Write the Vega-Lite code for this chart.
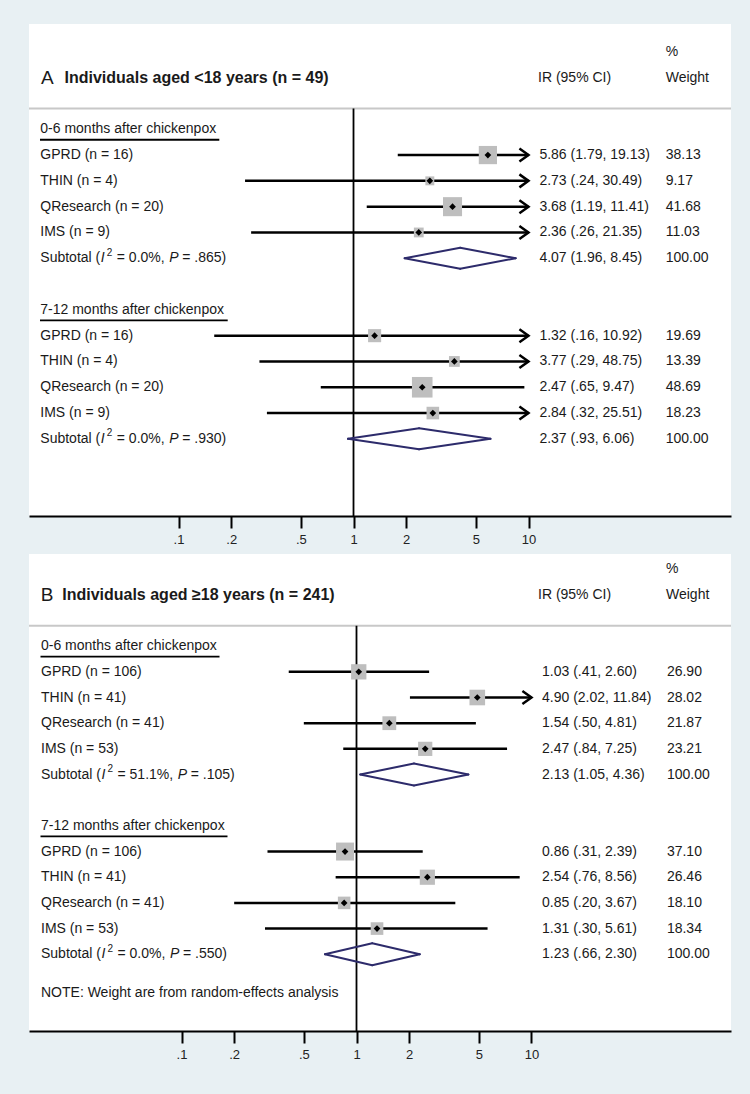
{
  "$schema": "https://vega.github.io/schema/vega-lite/v6.json",
  "background": "#e8f0f3",
  "padding": {"left": 28, "top": 24, "right": 20, "bottom": 33},
  "bounds": "flush",
  "spacing": 38,
  "datasets": {
    "a": [
      {"kind": "wthead", "label": "%", "row": 1},
      {"kind": "letter", "label": "A", "row": 2},
      {"kind": "title", "label": "Individuals aged <18 years (n = 49)", "row": 2},
      {"kind": "irhead", "label": "IR (95% CI)", "row": 2},
      {"kind": "wthead", "label": "Weight", "row": 2},
      {"kind": "header", "label": "0-6 months after chickenpox", "row": 4},
      {"kind": "study", "label": "GPRD (n = 16)", "row": 5, "est": 5.86, "lo": 1.79, "hi": 19.13, "w": 38.13, "ci": "5.86 (1.79, 19.13)"},
      {"kind": "study", "label": "THIN (n = 4)", "row": 6, "est": 2.73, "lo": 0.24, "hi": 30.49, "w": 9.17, "ci": "2.73 (.24, 30.49)"},
      {"kind": "study", "label": "QResearch (n = 20)", "row": 7, "est": 3.68, "lo": 1.19, "hi": 11.41, "w": 41.68, "ci": "3.68 (1.19, 11.41)"},
      {"kind": "study", "label": "IMS (n = 9)", "row": 8, "est": 2.36, "lo": 0.26, "hi": 21.35, "w": 11.03, "ci": "2.36 (.26, 21.35)"},
      {"kind": "subtotal", "label": "Subtotal (", "row": 9, "est": 4.07, "lo": 1.96, "hi": 8.45, "w": 100.0, "ci": "4.07 (1.96, 8.45)", "eqI": "= 0.0%,", "eqP": "= .865)"},
      {"kind": "header", "label": "7-12 months after chickenpox", "row": 11},
      {"kind": "study", "label": "GPRD (n = 16)", "row": 12, "est": 1.32, "lo": 0.16, "hi": 10.92, "w": 19.69, "ci": "1.32 (.16, 10.92)"},
      {"kind": "study", "label": "THIN (n = 4)", "row": 13, "est": 3.77, "lo": 0.29, "hi": 48.75, "w": 13.39, "ci": "3.77 (.29, 48.75)"},
      {"kind": "study", "label": "QResearch (n = 20)", "row": 14, "est": 2.47, "lo": 0.65, "hi": 9.47, "w": 48.69, "ci": "2.47 (.65, 9.47)"},
      {"kind": "study", "label": "IMS (n = 9)", "row": 15, "est": 2.84, "lo": 0.32, "hi": 25.51, "w": 18.23, "ci": "2.84 (.32, 25.51)"},
      {"kind": "subtotal", "label": "Subtotal (", "row": 16, "est": 2.37, "lo": 0.93, "hi": 6.06, "w": 100.0, "ci": "2.37 (.93, 6.06)", "eqI": "= 0.0%,", "eqP": "= .930)"}
    ],
    "b": [
      {"kind": "wthead", "label": "%", "row": 1},
      {"kind": "letter", "label": "B", "row": 2},
      {"kind": "title", "label": "Individuals aged ≥18 years (n = 241)", "row": 2},
      {"kind": "irhead", "label": "IR (95% CI)", "row": 2},
      {"kind": "wthead", "label": "Weight", "row": 2},
      {"kind": "header", "label": "0-6 months after chickenpox", "row": 4},
      {"kind": "study", "label": "GPRD (n = 106)", "row": 5, "est": 1.03, "lo": 0.41, "hi": 2.60, "w": 26.90, "ci": "1.03 (.41, 2.60)"},
      {"kind": "study", "label": "THIN (n = 41)", "row": 6, "est": 4.90, "lo": 2.02, "hi": 11.84, "w": 28.02, "ci": "4.90 (2.02, 11.84)"},
      {"kind": "study", "label": "QResearch (n = 41)", "row": 7, "est": 1.54, "lo": 0.50, "hi": 4.81, "w": 21.87, "ci": "1.54 (.50, 4.81)"},
      {"kind": "study", "label": "IMS (n = 53)", "row": 8, "est": 2.47, "lo": 0.84, "hi": 7.25, "w": 23.21, "ci": "2.47 (.84, 7.25)"},
      {"kind": "subtotal", "label": "Subtotal (", "row": 9, "est": 2.13, "lo": 1.05, "hi": 4.36, "w": 100.0, "ci": "2.13 (1.05, 4.36)", "eqI": "= 51.1%,", "eqP": "= .105)"},
      {"kind": "header", "label": "7-12 months after chickenpox", "row": 11},
      {"kind": "study", "label": "GPRD (n = 106)", "row": 12, "est": 0.86, "lo": 0.31, "hi": 2.39, "w": 37.10, "ci": "0.86 (.31, 2.39)"},
      {"kind": "study", "label": "THIN (n = 41)", "row": 13, "est": 2.54, "lo": 0.76, "hi": 8.56, "w": 26.46, "ci": "2.54 (.76, 8.56)"},
      {"kind": "study", "label": "QResearch (n = 41)", "row": 14, "est": 0.85, "lo": 0.20, "hi": 3.67, "w": 18.10, "ci": "0.85 (.20, 3.67)"},
      {"kind": "study", "label": "IMS (n = 53)", "row": 15, "est": 1.31, "lo": 0.30, "hi": 5.61, "w": 18.34, "ci": "1.31 (.30, 5.61)"},
      {"kind": "subtotal", "label": "Subtotal (", "row": 16, "est": 1.23, "lo": 0.66, "hi": 2.30, "w": 100.0, "ci": "1.23 (.66, 2.30)", "eqI": "= 0.0%,", "eqP": "= .550)"},
      {"kind": "note", "label": "NOTE: Weight are from random-effects analysis", "row": 17.5}
    ]
  },
  "vconcat": [
    {
      "width": 702,
      "height": 492,
      "data": {"name": "a"},
      "layer": [
        {
          "transform": [{"filter": "datum.kind == 'study'"}, {"calculate": "min(datum.hi, 10)", "as": "hic"}],
          "mark": {"type": "rule", "color": "#000000", "strokeWidth": 2.5},
          "encoding": {
            "x": {"field": "lo", "type": "quantitative", "scale": {"type": "log", "domain": [0.013984, 143.6], "nice": false, "zero": false}, "axis": {"values": [0.1, 0.2, 0.5, 1, 2, 5, 10], "labelExpr": "replace(format(datum.value, '~g'), '0.', '.')", "title": null, "labelOverlap": false, "labelFlush": false}},
            "x2": {"field": "hic"},
            "y": {"field": "row", "type": "quantitative", "scale": {"domain": [-0.08, 18.99], "reverse": true, "nice": false, "zero": false}, "axis": null}
          }
        },
        {
          "transform": [{"filter": "datum.kind == 'letter'"}],
          "mark": {"type": "rule", "color": "#c8c8c8", "strokeWidth": 2},
          "encoding": {"x": {"datum": 0.013984}, "x2": {"datum": 143.6}, "y": {"datum": 3.2}}
        },
        {
          "transform": [{"filter": "datum.kind == 'letter'"}],
          "mark": {"type": "rule", "color": "#000000", "strokeWidth": 1.8},
          "encoding": {"x": {"datum": 1}, "y": {"datum": 3.2}, "y2": {"datum": 18.99}}
        },
        {
          "transform": [{"filter": "datum.kind == 'header' && datum.row == 4"}],
          "mark": {"type": "rule", "color": "#000000", "strokeWidth": 1.8, "yOffset": 10.5},
          "encoding": {"x": {"datum": 0.016161}, "x2": {"datum": 0.17105}, "y": {"field": "row", "type": "quantitative"}}
        },
        {
          "transform": [{"filter": "datum.kind == 'header' && datum.row == 11"}],
          "mark": {"type": "rule", "color": "#000000", "strokeWidth": 1.8, "yOffset": 10.5},
          "encoding": {"x": {"datum": 0.016161}, "x2": {"datum": 0.19104}, "y": {"field": "row", "type": "quantitative"}}
        },
        {
          "transform": [{"filter": "datum.kind == 'study' && datum.hi > 10"}],
          "mark": {"type": "point", "shape": "M -1.4 -1 L 0 0 L -1.4 1", "filled": false, "stroke": "#000000", "strokeWidth": 2.5, "size": 169, "opacity": 1},
          "encoding": {"x": {"datum": 10}, "y": {"field": "row", "type": "quantitative"}}
        },
        {
          "transform": [{"filter": "datum.kind == 'study'"}],
          "mark": {"type": "point", "shape": "square", "filled": true, "color": "#bebebe", "opacity": 1},
          "encoding": {
            "x": {"field": "est", "type": "quantitative"},
            "y": {"field": "row", "type": "quantitative"},
            "size": {"field": "w", "type": "quantitative", "scale": {"domain": [0, 100], "range": [0, 870], "zero": true}, "legend": null}
          }
        },
        {
          "transform": [{"filter": "datum.kind == 'study'"}],
          "mark": {"type": "point", "shape": "diamond", "filled": true, "color": "#000000", "size": 45, "opacity": 1},
          "encoding": {"x": {"field": "est", "type": "quantitative"}, "y": {"field": "row", "type": "quantitative"}}
        },
        {
          "transform": [{"filter": "datum.kind == 'subtotal'"}],
          "mark": {"type": "rule", "color": "#2d2b6b", "strokeWidth": 2, "strokeCap": "round", "y2Offset": -10.5},
          "encoding": {"x": {"field": "lo", "type": "quantitative"}, "x2": {"field": "est"}, "y": {"field": "row", "type": "quantitative"}, "y2": {"field": "row"}}
        },
        {
          "transform": [{"filter": "datum.kind == 'subtotal'"}],
          "mark": {"type": "rule", "color": "#2d2b6b", "strokeWidth": 2, "strokeCap": "round", "y2Offset": 10.5},
          "encoding": {"x": {"field": "lo", "type": "quantitative"}, "x2": {"field": "est"}, "y": {"field": "row", "type": "quantitative"}, "y2": {"field": "row"}}
        },
        {
          "transform": [{"filter": "datum.kind == 'subtotal'"}],
          "mark": {"type": "rule", "color": "#2d2b6b", "strokeWidth": 2, "strokeCap": "round", "yOffset": -10.5},
          "encoding": {"x": {"field": "est", "type": "quantitative"}, "x2": {"field": "hi"}, "y": {"field": "row", "type": "quantitative"}, "y2": {"field": "row"}}
        },
        {
          "transform": [{"filter": "datum.kind == 'subtotal'"}],
          "mark": {"type": "rule", "color": "#2d2b6b", "strokeWidth": 2, "strokeCap": "round", "yOffset": 10.5},
          "encoding": {"x": {"field": "est", "type": "quantitative"}, "x2": {"field": "hi"}, "y": {"field": "row", "type": "quantitative"}, "y2": {"field": "row"}}
        },
        {
          "transform": [{"filter": "datum.kind == 'header' || datum.kind == 'study' || datum.kind == 'subtotal'"}],
          "mark": {"type": "text", "align": "left", "baseline": "middle", "fontSize": 14, "color": "#1a1a1a"},
          "encoding": {"x": {"datum": 0.016226}, "y": {"field": "row", "type": "quantitative"}, "text": {"field": "label"}}
        },
        {
          "transform": [{"filter": "datum.kind == 'subtotal'"}],
          "mark": {"type": "text", "align": "left", "baseline": "middle", "fontSize": 14, "color": "#1a1a1a", "fontStyle": "italic", "dx": 60.5},
          "encoding": {"x": {"datum": 0.016226}, "y": {"field": "row", "type": "quantitative"}, "text": {"value": "I"}}
        },
        {
          "transform": [{"filter": "datum.kind == 'subtotal'"}],
          "mark": {"type": "text", "align": "left", "baseline": "middle", "fontSize": 10, "color": "#1a1a1a", "dx": 66.5, "dy": -5.5},
          "encoding": {"x": {"datum": 0.016226}, "y": {"field": "row", "type": "quantitative"}, "text": {"value": "2"}}
        },
        {
          "transform": [{"filter": "datum.kind == 'subtotal'"}],
          "mark": {"type": "text", "align": "left", "baseline": "middle", "fontSize": 14, "color": "#1a1a1a", "dx": 76.5},
          "encoding": {"x": {"datum": 0.016226}, "y": {"field": "row", "type": "quantitative"}, "text": {"field": "eqI"}}
        },
        {
          "transform": [{"filter": "datum.kind == 'subtotal'"}],
          "mark": {"type": "text", "align": "left", "baseline": "middle", "fontSize": 14, "color": "#1a1a1a", "fontStyle": "italic", "dx": 129},
          "encoding": {"x": {"datum": 0.016226}, "y": {"field": "row", "type": "quantitative"}, "text": {"value": "P"}}
        },
        {
          "transform": [{"filter": "datum.kind == 'subtotal'"}],
          "mark": {"type": "text", "align": "left", "baseline": "middle", "fontSize": 14, "color": "#1a1a1a", "dx": 142},
          "encoding": {"x": {"datum": 0.016226}, "y": {"field": "row", "type": "quantitative"}, "text": {"field": "eqP"}}
        },
        {
          "transform": [{"filter": "datum.kind == 'letter'"}],
          "mark": {"type": "text", "align": "left", "baseline": "middle", "fontSize": 19, "color": "#1a1a1a"},
          "encoding": {"x": {"datum": 0.016375}, "y": {"field": "row", "type": "quantitative"}, "text": {"field": "label"}}
        },
        {
          "transform": [{"filter": "datum.kind == 'title'"}],
          "mark": {"type": "text", "align": "left", "baseline": "middle", "fontSize": 16, "fontWeight": "bold", "color": "#1a1a1a"},
          "encoding": {"x": {"datum": 0.022314}, "y": {"field": "row", "type": "quantitative"}, "text": {"field": "label"}}
        },
        {
          "transform": [{"filter": "datum.kind == 'irhead'"}],
          "mark": {"type": "text", "align": "left", "baseline": "middle", "fontSize": 14, "color": "#1a1a1a"},
          "encoding": {"x": {"datum": 11.332}, "y": {"field": "row", "type": "quantitative"}, "text": {"field": "label"}}
        },
        {
          "transform": [{"filter": "datum.kind == 'study' || datum.kind == 'subtotal'"}],
          "mark": {"type": "text", "align": "left", "baseline": "middle", "fontSize": 14, "color": "#1a1a1a"},
          "encoding": {"x": {"datum": 11.543}, "y": {"field": "row", "type": "quantitative"}, "text": {"field": "ci"}}
        },
        {
          "transform": [{"filter": "datum.kind == 'wthead'"}],
          "mark": {"type": "text", "align": "left", "baseline": "middle", "fontSize": 14, "color": "#1a1a1a"},
          "encoding": {"x": {"datum": 60.8}, "y": {"field": "row", "type": "quantitative"}, "text": {"field": "label"}}
        },
        {
          "transform": [{"filter": "datum.kind == 'study' || datum.kind == 'subtotal'"}],
          "mark": {"type": "text", "align": "left", "baseline": "middle", "fontSize": 14, "color": "#1a1a1a"},
          "encoding": {"x": {"datum": 60.8}, "y": {"field": "row", "type": "quantitative"}, "text": {"field": "w", "type": "quantitative", "format": ".2f"}}
        }
      ]
    },
    {
      "width": 702,
      "height": 477,
      "data": {"name": "b"},
      "layer": [
        {
          "transform": [{"filter": "datum.kind == 'study'"}, {"calculate": "min(datum.hi, 10)", "as": "hic"}],
          "mark": {"type": "rule", "color": "#000000", "strokeWidth": 2.5},
          "encoding": {
            "x": {"field": "lo", "type": "quantitative", "scale": {"type": "log", "domain": [0.013445, 138.04], "nice": false, "zero": false}, "axis": {"values": [0.1, 0.2, 0.5, 1, 2, 5, 10], "labelExpr": "replace(format(datum.value, '~g'), '0.', '.')", "title": null, "labelOverlap": false, "labelFlush": false}},
            "x2": {"field": "hic"},
            "y": {"field": "row", "type": "quantitative", "scale": {"domain": [0.41, 18.99], "reverse": true, "nice": false, "zero": false}, "axis": null}
          }
        },
        {
          "transform": [{"filter": "datum.kind == 'letter'"}],
          "mark": {"type": "rule", "color": "#c8c8c8", "strokeWidth": 2},
          "encoding": {"x": {"datum": 0.013445}, "x2": {"datum": 138.04}, "y": {"datum": 3.2}}
        },
        {
          "transform": [{"filter": "datum.kind == 'letter'"}],
          "mark": {"type": "rule", "color": "#000000", "strokeWidth": 1.8},
          "encoding": {"x": {"datum": 1}, "y": {"datum": 3.2}, "y2": {"datum": 18.99}}
        },
        {
          "transform": [{"filter": "datum.kind == 'header' && datum.row == 4"}],
          "mark": {"type": "rule", "color": "#000000", "strokeWidth": 1.8, "yOffset": 10.5},
          "encoding": {"x": {"datum": 0.01564}, "x2": {"datum": 0.16489}, "y": {"field": "row", "type": "quantitative"}}
        },
        {
          "transform": [{"filter": "datum.kind == 'header' && datum.row == 11"}],
          "mark": {"type": "rule", "color": "#000000", "strokeWidth": 1.8, "yOffset": 10.5},
          "encoding": {"x": {"datum": 0.01564}, "x2": {"datum": 0.18316}, "y": {"field": "row", "type": "quantitative"}}
        },
        {
          "transform": [{"filter": "datum.kind == 'study' && datum.hi > 10"}],
          "mark": {"type": "point", "shape": "M -1.4 -1 L 0 0 L -1.4 1", "filled": false, "stroke": "#000000", "strokeWidth": 2.5, "size": 169, "opacity": 1},
          "encoding": {"x": {"datum": 10}, "y": {"field": "row", "type": "quantitative"}}
        },
        {
          "transform": [{"filter": "datum.kind == 'study'"}],
          "mark": {"type": "point", "shape": "square", "filled": true, "color": "#bebebe", "opacity": 1},
          "encoding": {
            "x": {"field": "est", "type": "quantitative"},
            "y": {"field": "row", "type": "quantitative"},
            "size": {"field": "w", "type": "quantitative", "scale": {"domain": [0, 100], "range": [0, 440], "zero": true}, "legend": null}
          }
        },
        {
          "transform": [{"filter": "datum.kind == 'study'"}],
          "mark": {"type": "point", "shape": "diamond", "filled": true, "color": "#000000", "size": 45, "opacity": 1},
          "encoding": {"x": {"field": "est", "type": "quantitative"}, "y": {"field": "row", "type": "quantitative"}}
        },
        {
          "transform": [{"filter": "datum.kind == 'subtotal'"}],
          "mark": {"type": "rule", "color": "#2d2b6b", "strokeWidth": 2, "strokeCap": "round", "y2Offset": -11},
          "encoding": {"x": {"field": "lo", "type": "quantitative"}, "x2": {"field": "est"}, "y": {"field": "row", "type": "quantitative"}, "y2": {"field": "row"}}
        },
        {
          "transform": [{"filter": "datum.kind == 'subtotal'"}],
          "mark": {"type": "rule", "color": "#2d2b6b", "strokeWidth": 2, "strokeCap": "round", "y2Offset": 11},
          "encoding": {"x": {"field": "lo", "type": "quantitative"}, "x2": {"field": "est"}, "y": {"field": "row", "type": "quantitative"}, "y2": {"field": "row"}}
        },
        {
          "transform": [{"filter": "datum.kind == 'subtotal'"}],
          "mark": {"type": "rule", "color": "#2d2b6b", "strokeWidth": 2, "strokeCap": "round", "yOffset": -11},
          "encoding": {"x": {"field": "est", "type": "quantitative"}, "x2": {"field": "hi"}, "y": {"field": "row", "type": "quantitative"}, "y2": {"field": "row"}}
        },
        {
          "transform": [{"filter": "datum.kind == 'subtotal'"}],
          "mark": {"type": "rule", "color": "#2d2b6b", "strokeWidth": 2, "strokeCap": "round", "yOffset": 11},
          "encoding": {"x": {"field": "est", "type": "quantitative"}, "x2": {"field": "hi"}, "y": {"field": "row", "type": "quantitative"}, "y2": {"field": "row"}}
        },
        {
          "transform": [{"filter": "datum.kind == 'header' || datum.kind == 'study' || datum.kind == 'subtotal' || datum.kind == 'note'"}],
          "mark": {"type": "text", "align": "left", "baseline": "middle", "fontSize": 14, "color": "#1a1a1a"},
          "encoding": {"x": {"datum": 0.015743}, "y": {"field": "row", "type": "quantitative"}, "text": {"field": "label"}}
        },
        {
          "transform": [{"filter": "datum.kind == 'subtotal'"}],
          "mark": {"type": "text", "align": "left", "baseline": "middle", "fontSize": 14, "color": "#1a1a1a", "fontStyle": "italic", "dx": 60.5},
          "encoding": {"x": {"datum": 0.015743}, "y": {"field": "row", "type": "quantitative"}, "text": {"value": "I"}}
        },
        {
          "transform": [{"filter": "datum.kind == 'subtotal'"}],
          "mark": {"type": "text", "align": "left", "baseline": "middle", "fontSize": 10, "color": "#1a1a1a", "dx": 66.5, "dy": -5.5},
          "encoding": {"x": {"datum": 0.015743}, "y": {"field": "row", "type": "quantitative"}, "text": {"value": "2"}}
        },
        {
          "transform": [{"filter": "datum.kind == 'subtotal'"}],
          "mark": {"type": "text", "align": "left", "baseline": "middle", "fontSize": 14, "color": "#1a1a1a", "dx": 76.5},
          "encoding": {"x": {"datum": 0.015743}, "y": {"field": "row", "type": "quantitative"}, "text": {"field": "eqI"}}
        },
        {
          "transform": [{"filter": "datum.kind == 'subtotal' && length(datum.eqI) == 7"}],
          "mark": {"type": "text", "align": "left", "baseline": "middle", "fontSize": 14, "color": "#1a1a1a", "fontStyle": "italic", "dx": 129},
          "encoding": {"x": {"datum": 0.015743}, "y": {"field": "row", "type": "quantitative"}, "text": {"value": "P"}}
        },
        {
          "transform": [{"filter": "datum.kind == 'subtotal' && length(datum.eqI) == 7"}],
          "mark": {"type": "text", "align": "left", "baseline": "middle", "fontSize": 14, "color": "#1a1a1a", "dx": 142},
          "encoding": {"x": {"datum": 0.015743}, "y": {"field": "row", "type": "quantitative"}, "text": {"field": "eqP"}}
        },
        {
          "transform": [{"filter": "datum.kind == 'subtotal' && length(datum.eqI) == 8"}],
          "mark": {"type": "text", "align": "left", "baseline": "middle", "fontSize": 14, "color": "#1a1a1a", "fontStyle": "italic", "dx": 136.8},
          "encoding": {"x": {"datum": 0.015743}, "y": {"field": "row", "type": "quantitative"}, "text": {"value": "P"}}
        },
        {
          "transform": [{"filter": "datum.kind == 'subtotal' && length(datum.eqI) == 8"}],
          "mark": {"type": "text", "align": "left", "baseline": "middle", "fontSize": 14, "color": "#1a1a1a", "dx": 149.8},
          "encoding": {"x": {"datum": 0.015743}, "y": {"field": "row", "type": "quantitative"}, "text": {"field": "eqP"}}
        },
        {
          "transform": [{"filter": "datum.kind == 'letter'"}],
          "mark": {"type": "text", "align": "left", "baseline": "middle", "fontSize": 19, "color": "#1a1a1a"},
          "encoding": {"x": {"datum": 0.015681}, "y": {"field": "row", "type": "quantitative"}, "text": {"field": "label"}}
        },
        {
          "transform": [{"filter": "datum.kind == 'title'"}],
          "mark": {"type": "text", "align": "left", "baseline": "middle", "fontSize": 16, "fontWeight": "bold", "color": "#1a1a1a"},
          "encoding": {"x": {"datum": 0.02081}, "y": {"field": "row", "type": "quantitative"}, "text": {"field": "label"}}
        },
        {
          "transform": [{"filter": "datum.kind == 'irhead'"}],
          "mark": {"type": "text", "align": "left", "baseline": "middle", "fontSize": 14, "color": "#1a1a1a"},
          "encoding": {"x": {"datum": 10.893}, "y": {"field": "row", "type": "quantitative"}, "text": {"field": "label"}}
        },
        {
          "transform": [{"filter": "datum.kind == 'study' || datum.kind == 'subtotal'"}],
          "mark": {"type": "text", "align": "left", "baseline": "middle", "fontSize": 14, "color": "#1a1a1a"},
          "encoding": {"x": {"datum": 11.482}, "y": {"field": "row", "type": "quantitative"}, "text": {"field": "ci"}}
        },
        {
          "transform": [{"filter": "datum.kind == 'wthead'"}],
          "mark": {"type": "text", "align": "left", "baseline": "middle", "fontSize": 14, "color": "#1a1a1a"},
          "encoding": {"x": {"datum": 58.7}, "y": {"field": "row", "type": "quantitative"}, "text": {"field": "label"}}
        },
        {
          "transform": [{"filter": "datum.kind == 'study' || datum.kind == 'subtotal'"}],
          "mark": {"type": "text", "align": "left", "baseline": "middle", "fontSize": 14, "color": "#1a1a1a"},
          "encoding": {"x": {"datum": 59.4}, "y": {"field": "row", "type": "quantitative"}, "text": {"field": "w", "type": "quantitative", "format": ".2f"}}
        }
      ]
    }
  ],
  "config": {
    "font": "Liberation Sans",
    "view": {"stroke": null, "fill": "#ffffff"},
    "axis": {"domainColor": "#000000", "domainWidth": 2, "tickColor": "#000000", "tickWidth": 2, "tickSize": 12, "labelFontSize": 13, "labelFont": "Liberation Sans", "labelColor": "#222222", "labelPadding": 5, "grid": false},
    "text": {"font": "Liberation Sans"}
  }
}
